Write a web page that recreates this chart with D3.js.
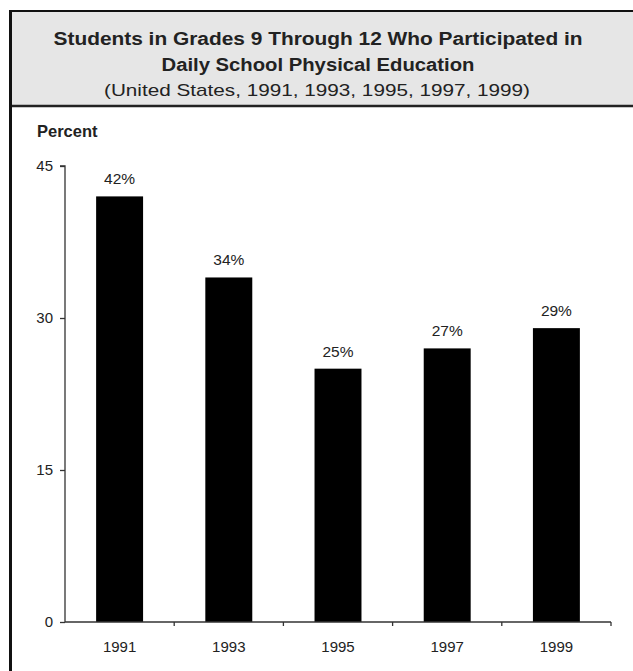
<html lang="en">
<head>
    <meta charset="utf-8">
    <title>Daily School Physical Education</title>
    <script src="https://d3js.org/d3.v7.min.js"></script>
    <style>
        body { margin: 0; background: #fff; }
        text { font-family: "Liberation Sans", Arial, sans-serif; fill: #222; }
    </style>
</head>
<body>
<svg class="chart"></svg>
<script>
    // data
    var years = ["1991", "1993", "1995", "1997", "1999"];
    var percents = [42, 34, 25, 27, 29];
    var yTicks = [0, 15, 30, 45];
    var titleLines = ["Students in Grades 9 Through 12 Who Participated in",
                      "Daily School Physical Education"];
    var subtitle = "(United States, 1991, 1993, 1995, 1997, 1999)";

    var width = 633, height = 671;

    var svg = d3.select(".chart")
        .attr("width", width)
        .attr("height", height);

    // outer frame + title box
    svg.append("rect")
        .attr("x", 10.5).attr("y", 11)
        .attr("width", 640).attr("height", 95)
        .style("fill", "#e6e6e6");

    svg.append("line")
        .attr("x1", 10).attr("x2", width)
        .attr("y1", 11).attr("y2", 11)
        .style("stroke", "#111").style("stroke-width", 2);

    svg.append("line")
        .attr("x1", 10).attr("x2", width)
        .attr("y1", 106).attr("y2", 106)
        .style("stroke", "#222").style("stroke-width", 2.5);

    svg.append("line")
        .attr("x1", 10.5).attr("x2", 10.5)
        .attr("y1", 10).attr("y2", height)
        .style("stroke", "#111").style("stroke-width", 3);

    // the reference type is a bit wider than Arial, so stretch to its widths
    var titleWidths = [529, 313];
    svg.selectAll(".title")
        .data(titleLines)
        .enter().append("text")
        .attr("class", "title")
        .attr("x", 318)
        .attr("y", function (d, i) { return 45 + i * 26; })
        .attr("textLength", function (d, i) { return titleWidths[i]; })
        .attr("lengthAdjust", "spacingAndGlyphs")
        .style("text-anchor", "middle")
        .style("font-weight", "bold")
        .style("font-size", "18px")
        .text(function (d) { return d; });

    svg.append("text")
        .attr("x", 317).attr("y", 96)
        .attr("textLength", 426)
        .attr("lengthAdjust", "spacingAndGlyphs")
        .style("text-anchor", "middle")
        .style("font-size", "17px")
        .text(subtitle);

    // chart area
    var x = d3.scaleBand()
        .domain(years)
        .range([65, 611])
        .paddingInner(0.57)
        .paddingOuter(0.285);

    var y = d3.scaleLinear()
        .domain([0, 45])
        .range([622, 166]);

    svg.append("text")
        .attr("x", 37).attr("y", 137)
        .style("font-weight", "bold")
        .style("font-size", "16.5px")
        .text("Percent");

    svg.selectAll(".bar")
        .data(percents)
        .enter().append("rect")
        .attr("class", "bar")
        .attr("x", function (d, i) { return x(years[i]); })
        .attr("width", x.bandwidth())
        .attr("y", function (d) { return y(d); })
        .attr("height", function (d) { return y(0) - y(d); })
        .style("fill", "#000");

    svg.selectAll(".val")
        .data(percents)
        .enter().append("text")
        .attr("class", "val")
        .attr("x", function (d, i) { return x(years[i]) + x.bandwidth() / 2; })
        .attr("y", function (d) { return y(d) - 12; })
        .style("text-anchor", "middle")
        .style("font-size", "15.5px")
        .text(function (d) { return d + "%"; });

    // y axis
    var yAxis = svg.append("g")
        .attr("transform", "translate(65,0)")
        .call(d3.axisLeft(y).tickValues(yTicks).tickSize(5).tickPadding(7));

    // x axis, ticks sit between the bars
    var bounds = years.map(function (d) { return x(d) + x.bandwidth() + x.step() * x.paddingInner() / 2; });
    var xAxis = svg.append("g").attr("class", "xaxis");
    xAxis.append("line")
        .attr("x1", 65).attr("x2", 611)
        .attr("y1", y(0)).attr("y2", y(0));
    xAxis.selectAll(".xtick")
        .data(bounds)
        .enter().append("line")
        .attr("class", "xtick")
        .attr("x1", function (d) { return d; })
        .attr("x2", function (d) { return d; })
        .attr("y1", y(0)).attr("y2", y(0) + 4);
    xAxis.selectAll("line").style("stroke", "#333").style("stroke-width", 1.3);

    svg.selectAll(".year")
        .data(years)
        .enter().append("text")
        .attr("class", "year")
        .attr("x", function (d) { return x(d) + x.bandwidth() / 2; })
        .attr("y", 652)
        .style("text-anchor", "middle")
        .style("font-size", "15px")
        .text(function (d) { return d; });

    yAxis.select(".domain").style("stroke", "#333").style("stroke-width", 1.3)
        .attr("d", "M-5," + y(45) + "H0V" + y(0));
    yAxis.selectAll(".tick line").style("stroke", "#333").style("stroke-width", 1.3);
    yAxis.selectAll(".tick text")
        .style("font-family", "'Liberation Sans', Arial, sans-serif")
        .style("font-size", "15px")
        .style("fill", "#222");
</script>
</body>
</html>
